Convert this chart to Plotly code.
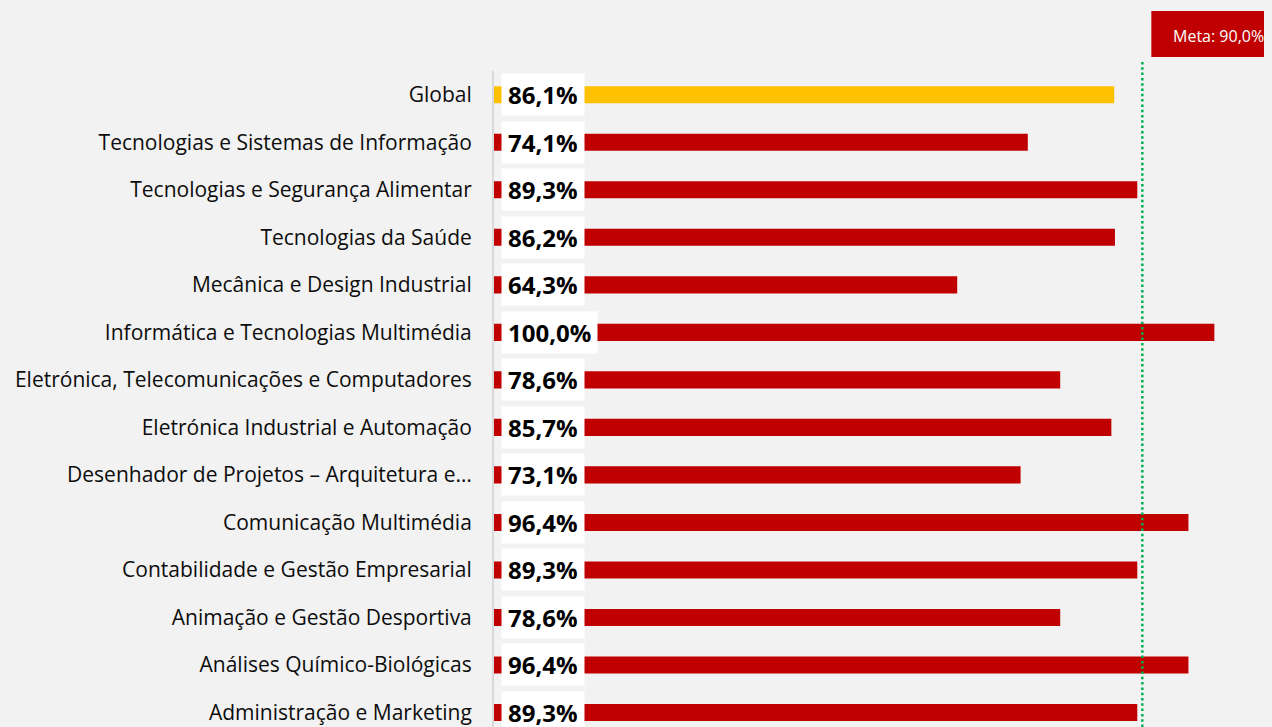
import plotly.graph_objects as go

categories = [
    "Administração e Marketing",
    "Análises Químico-Biológicas",
    "Animação e Gestão Desportiva",
    "Contabilidade e Gestão Empresarial",
    "Comunicação Multimédia",
    "Desenhador de Projetos – Arquitetura e…",
    "Eletrónica Industrial e Automação",
    "Eletrónica, Telecomunicações e Computadores",
    "Informática e Tecnologias Multimédia",
    "Mecânica e Design Industrial",
    "Tecnologias da Saúde",
    "Tecnologias e Segurança Alimentar",
    "Tecnologias e Sistemas de Informação",
    "Global",
]
values = [89.3, 96.4, 78.6, 89.3, 96.4, 73.1, 85.7, 78.6, 100.0, 64.3, 86.2, 89.3, 74.1, 86.1]
META = 90.0

RED = "#C00000"
GOLD = "#FFC000"
BG = "#F2F2F2"
colors = [GOLD if c == "Global" else RED for c in categories]

def fmt(v):
    return f"{v:.1f}%".replace(".", ",")

fig = go.Figure()
fig.add_trace(go.Bar(
    x=values, y=categories, orientation="h",
    marker=dict(color=colors, line=dict(width=0)),
    width=0.36, hoverinfo="skip",
))

annotations = []
for c, v in zip(categories, values):
    annotations.append(dict(
        x=0, y=c, xref="x", yref="y", text="<b>" + fmt(v) + "</b>",
        showarrow=False, xanchor="left", yanchor="middle", xshift=7,
        bgcolor="white", borderpad=6, height=29,
        font=dict(family="Open Sans, sans-serif", size=24, color="black"),
    ))

# Meta label
annotations.append(dict(
    x=META, y=1, xref="x", yref="paper", text="Meta: " + fmt(META),
    showarrow=False, xanchor="left", yanchor="bottom", xshift=29, yshift=22,
    font=dict(family="Open Sans, sans-serif", size=16, color="white"),
))

shapes = [
    dict(type="rect", xref="x", yref="paper", xsizemode="pixel", ysizemode="pixel",
         xanchor=META, yanchor=1, x0=9, x1=140, y0=14, y1=60,
         fillcolor=RED, line=dict(width=0), layer="above"),
    dict(type="line", xref="x", yref="paper", x0=META, x1=META, y0=0, y1=1.016,
         line=dict(color="#00B050", width=2.5, dash="2.5px,2.8px"), layer="above"),
]

fig.update_layout(
    width=1264, height=719,
    margin=dict(l=486, r=0, t=63, b=0),
    paper_bgcolor=BG, plot_bgcolor=BG,
    showlegend=False,
    annotations=annotations,
    shapes=shapes,
    xaxis=dict(range=[0, 108], visible=False, fixedrange=True),
    yaxis=dict(
        type="category", categoryorder="array", categoryarray=categories,
        range=[-0.305, 13.5], showgrid=False, zeroline=False,
        showline=True, linecolor="#D9D9D9", linewidth=2,
        ticks="", ticklabelstandoff=16,
        tickfont=dict(family="Open Sans, sans-serif", size=21, color="#0D0D0D"),
        fixedrange=True,
    ),
)

fig.write_html("out.html", post_script="document.body.style.backgroundColor='" + BG + "';")
